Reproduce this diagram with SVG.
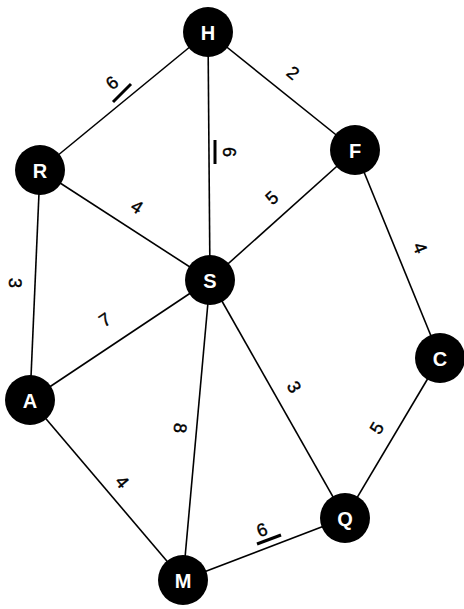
<svg xmlns="http://www.w3.org/2000/svg" width="464" height="609" viewBox="0 0 464 609">
<style>
.e{stroke:#000;stroke-width:1.6;fill:none}
.n circle{fill:#000}
.n text{fill:#fff;font-family:"Liberation Sans",Arial,sans-serif;font-weight:bold;font-size:20px;text-anchor:middle;dominant-baseline:central}
.l{fill:#000;stroke:#000;stroke-width:0.4;font-family:"Liberation Sans",Arial,sans-serif;font-size:18px;text-anchor:middle;dominant-baseline:central}
.b{stroke:#000;stroke-width:3}
</style>
<rect width="464" height="609" fill="#fff"/>
<g id="connectors">
<line class="e" x1="208" y1="32" x2="40" y2="170"/>
<line class="e" x1="208" y1="32" x2="355" y2="150"/>
<line class="e" x1="208" y1="32" x2="210" y2="280"/>
<line class="e" x1="40" y1="170" x2="210" y2="280"/>
<line class="e" x1="355" y1="150" x2="210" y2="280"/>
<line class="e" x1="40" y1="170" x2="30" y2="400"/>
<line class="e" x1="355" y1="150" x2="440" y2="358"/>
<line class="e" x1="30" y1="400" x2="210" y2="280"/>
<line class="e" x1="210" y1="280" x2="345" y2="518"/>
<line class="e" x1="210" y1="280" x2="183" y2="580"/>
<line class="e" x1="440" y1="358" x2="345" y2="518"/>
<line class="e" x1="30" y1="400" x2="183" y2="580"/>
<line class="e" x1="183" y1="580" x2="345" y2="518"/>
</g>
<g id="labels">
<text class="l" transform="translate(112,83) rotate(-39)">6</text>
<line class="b" x1="113" y1="102" x2="131" y2="84"/>
<text class="l" transform="translate(293,73) rotate(39)">2</text>
<text class="l" transform="translate(229,152) rotate(90)">6</text>
<line class="b" x1="215" y1="140" x2="215" y2="164"/>
<text class="l" transform="translate(137,207) rotate(33)">4</text>
<text class="l" transform="translate(272,198) rotate(-42)">5</text>
<text class="l" transform="translate(15,283) rotate(92)">3</text>
<text class="l" transform="translate(420,248) rotate(68)">4</text>
<text class="l" transform="translate(105,320) rotate(-34)">7</text>
<text class="l" transform="translate(294,387) rotate(60)">3</text>
<text class="l" transform="translate(180,428) rotate(95)">8</text>
<text class="l" transform="translate(377,428) rotate(-59)">5</text>
<text class="l" transform="translate(122,482) rotate(50)">4</text>
<text class="l" transform="translate(262,530) rotate(-21)">6</text>
<line class="b" x1="257" y1="544" x2="281" y2="535"/>
</g>
<g id="H" class="n"><circle cx="208" cy="32" r="25"/><text x="208" y="33">H</text></g>
<g id="R" class="n"><circle cx="40" cy="170" r="25"/><text x="40" y="171">R</text></g>
<g id="F" class="n"><circle cx="355" cy="150" r="25"/><text x="355" y="151">F</text></g>
<g id="S" class="n"><circle cx="210" cy="280" r="25"/><text x="210" y="281">S</text></g>
<g id="C" class="n"><circle cx="440" cy="358" r="25"/><text x="440" y="359">C</text></g>
<g id="A" class="n"><circle cx="30" cy="400" r="25"/><text x="30" y="401">A</text></g>
<g id="Q" class="n"><circle cx="345" cy="518" r="25"/><text x="345" y="519">Q</text></g>
<g id="M" class="n"><circle cx="183" cy="580" r="25"/><text x="183" y="581">M</text></g>
</svg>
